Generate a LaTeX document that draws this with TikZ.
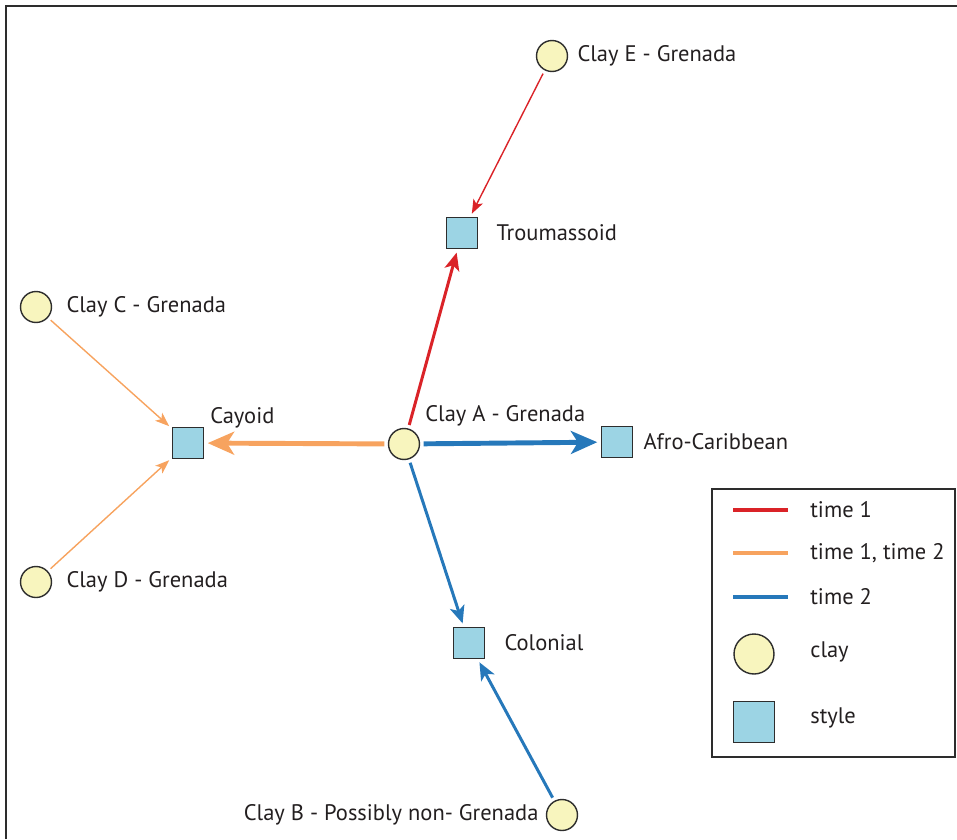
\documentclass[tikz,border=0pt]{standalone}
\usepackage{fontspec}
\setmainfont{PT Sans}
\usetikzlibrary{arrows.meta,positioning}
\definecolor{ClayYellow}{RGB}{248,245,190}
\definecolor{StyleBlue}{RGB}{156,212,228}
\definecolor{TimeRed}{RGB}{218,35,40}
\definecolor{TimeOrange}{RGB}{247,163,95}
\definecolor{TimeBlue}{RGB}{38,120,186}
\definecolor{EdgeGray}{RGB}{45,45,45}
\definecolor{TextGray}{RGB}{35,31,32}
\tikzset{
  clay/.style={circle, draw=EdgeGray, fill=ClayYellow, line width=0.8pt, minimum size=0.62cm, inner sep=0pt},
  style box/.style={rectangle, draw=EdgeGray, fill=StyleBlue, line width=0.8pt, minimum size=0.62cm, inner sep=0pt},
  txt/.style={inner sep=0pt, text=TextGray, font=\fontsize{12.8}{14}\selectfont},
  thin link/.style={line width=0.8pt, -{Stealth[length=8pt, width=6pt, inset=2pt]}, shorten <=2pt, shorten >=2pt},
  mid link/.style={line width=1.7pt, -{Stealth[length=10pt, width=8.5pt, inset=2.5pt]}, shorten <=2pt, shorten >=2pt},
  thick link/.style={line width=2.8pt, -{Stealth[length=15pt, width=13pt, inset=4pt]}, shorten <=2pt, shorten >=2pt},
  key line/.style={line width=2.8pt}
}
\begin{document}
\begin{tikzpicture}[x=0.02cm, y=-0.02cm]
  \useasboundingbox (0,0) rectangle (957,839);
  % frame
  \draw[EdgeGray, line width=1.1pt] (6,839) -- (6,6) -- (957,6);

  % clays and styles
  \node[clay] (cA) at (404,444) {};
  \node[clay] (cB) at (562,815) {};
  \node[clay] (cC) at (36,307) {};
  \node[clay] (cD) at (36,582) {};
  \node[clay] (cE) at (552,56) {};
  \node[style box] (sTrou) at (462,233) {};
  \node[style box] (sCay) at (188,443) {};
  \node[style box] (sAfro) at (617,442) {};
  \node[style box] (sCol) at (469,643) {};

  % labels
  \node[txt, anchor=base west] (tA) at (425,421) {Clay A - Grenada};
  \node[txt, left=0.14cm of cB] (tB) {Clay B - Possibly non- Grenada};
  \node[txt, right=0.28cm of cC] (tC) {Clay C - Grenada};
  \node[txt, right=0.28cm of cD] (tD) {Clay D - Grenada};
  \node[txt, right=0.18cm of cE] (tE) {Clay E - Grenada};
  \node[txt, right=0.36cm of sTrou] (tTrou) {Troumassoid};
  \node[txt, anchor=base west] (tCay) at (210,423) {Cayoid};
  \node[txt, right=0.2cm of sAfro] (tAfro) {Afro-Caribbean};
  \node[txt, right=0.38cm of sCol] (tCol) {Colonial};

  % links
  \draw[thin link, TimeRed] (cE) -- (sTrou);
  \draw[mid link, TimeRed] (cA) -- (sTrou);
  \draw[thin link, TimeOrange] (cC) -- (sCay);
  \draw[thin link, TimeOrange] (cD) -- (sCay);
  \draw[thick link, TimeOrange] (cA) -- (sCay);
  \draw[thick link, TimeBlue] (cA) -- (sAfro);
  \draw[mid link, TimeBlue] (cA) -- (sCol);
  \draw[mid link, TimeBlue] (cB) -- (sCol);

  % legend
  \draw[EdgeGray, line width=0.8pt] (712,489) rectangle (955,757);
  \draw[key line, TimeRed] (733,510) -- (788,510);
  \draw[key line, TimeOrange] (733,553) -- (788,553);
  \draw[key line, TimeBlue] (733,597) -- (788,597);
  \node[clay, minimum size=0.8cm] (kClay) at (754,654) {};
  \node[style box, minimum size=0.82cm] (kStyle) at (754,722) {};
  \node[txt, anchor=west] (kRed) at (810,510) {time 1};
  \node[txt, anchor=west] (kOrange) at (810,553) {time 1, time 2};
  \node[txt, anchor=west] (kBlue) at (810,597) {time 2};
  \node[txt, anchor=west] (kClayTxt) at (810,652) {clay};
  \node[txt, anchor=west] (kStyleTxt) at (810,718) {style};
\end{tikzpicture}
\end{document}
